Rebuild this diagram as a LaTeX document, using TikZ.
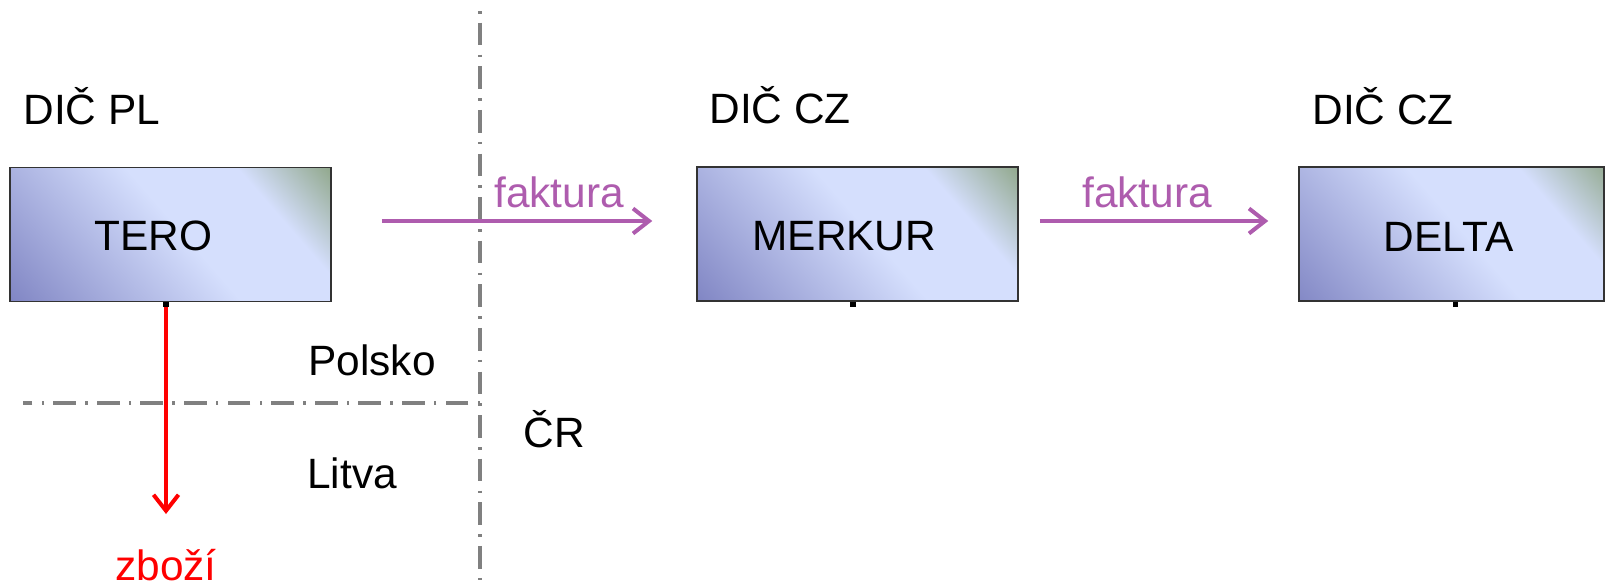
\documentclass[tikz,border=0pt]{standalone}
\usepackage{fontspec}
\setsansfont{Liberation Sans}
\usetikzlibrary{arrows.meta}
\definecolor{firmdark}{RGB}{126,131,194}
\definecolor{firmlight}{RGB}{213,223,253}
\definecolor{firmgreen}{RGB}{140,164,132}
\definecolor{invoicepurple}{RGB}{174,92,174}
\definecolor{bordergray}{RGB}{128,128,128}
\pgfdeclarehorizontalshading{firmshade}{170pt}{color(0pt)=(firmdark); color(90pt)=(firmlight); color(132pt)=(firmlight); color(170pt)=(firmgreen)}
\tikzset{
        firm/.style={draw=black!80, line width=0.75pt, inner sep=0pt,
            minimum width=160.5pt, minimum height=67pt,
            path picture={\node[rotate=41, inner sep=0pt] at (path picture bounding box.center) {\pgfuseshading{firmshade}};}}, % shaded box of a company
        txt/.style={anchor=base west, inner sep=0pt}, % text set on its baseline
        invoice/.style={draw=invoicepurple, line width=2pt, -{Straight Barb[length=8pt,width=12.5pt]}}, % the invoice goes this way
        goods/.style={draw=red, line width=2pt, -{Straight Barb[length=8pt,width=12.5pt]}}, % the goods go this way
        tick/.style={draw=black, line width=2.75pt}, % small mark under a box
    }
\tikzstyle{border}=[draw=bordergray, line width=2.25pt, dash pattern=on 1.25pt off 4.6pt on 11.35pt off 4.6pt]

\begin{document}
\begin{tikzpicture}[font=\sffamily\fontsize{21.2pt}{25pt}\selectfont, x=0.5pt, y=-0.5pt]
    \useasboundingbox (0,0) rectangle (1606,584);
    % state borders
    \coordinate (north end) at (480,11);
    \coordinate (south end) at (480,584);
    \coordinate (crossing) at (480,403);
    \coordinate (west end) at (23,403);
    \draw[border] (north end) -- (south end);
    \draw[border] (crossing) -- (west end);
    % companies
    \node[firm] (tero) at (170.5,234.5) {};
    \node[firm] (merkur) at (857.5,234) {};
    \node[firm, minimum width=152.5pt] (delta) at (1451.5,234) {};
    \node[txt] (tero name) at (94,250) {TERO};
    \node[txt] (merkur name) at (752,250) {MERKUR};
    \node[txt] (delta name) at (1383,251) {DELTA};
    \node[txt] (dic pl) at (23,124) {DIČ PL};
    \node[txt] (dic cz1) at (709,123.5) {DIČ CZ};
    \node[txt] (dic cz2) at (1312,124) {DIČ CZ};
    \foreach \firm/\dx in {tero/-2.25pt, merkur/-2.25pt, delta/2pt}
        \draw[tick] ([xshift=\dx]\firm.south) -- ++(0,5);
    % countries
    \node[txt] (polsko) at (308,375) {Polsko};
    \node[txt] (litva) at (307,488) {Litva};
    \node[txt] (cr) at (523,447) {ČR};
    % invoices
    \draw[invoice] ([xshift=25pt,yshift=6.75pt]tero.east) -- ([xshift=-22pt,yshift=6.5pt]merkur.west);
    \draw[invoice] ([xshift=10.5pt,yshift=6.5pt]merkur.east) -- ([xshift=-15pt,yshift=6.5pt]delta.west);
    \node[txt, text=invoicepurple] (faktura1) at (494,207) {faktura};
    \node[txt, text=invoicepurple] (faktura2) at (1082,207) {faktura};
    % goods
    \coordinate (goods end) at (166,514);
    \draw[goods] ([xshift=-2.25pt,yshift=-2.5pt]tero.south) -- (goods end);
    \node[txt, text=red] (zbozi) at (115,580) {zboží};
\end{tikzpicture}
\end{document}
